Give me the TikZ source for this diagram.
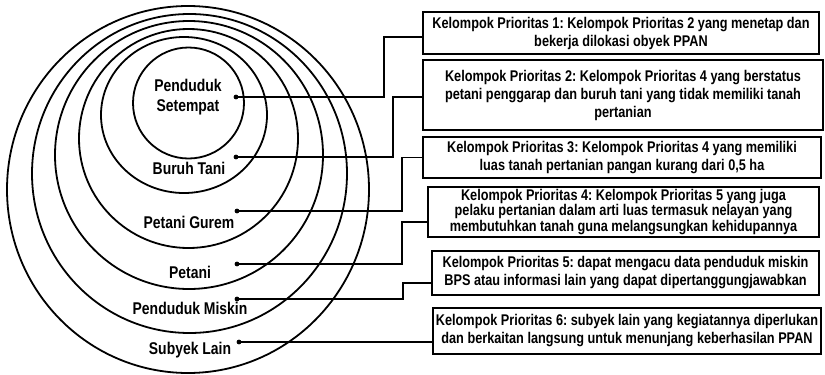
\documentclass[tikz,border=0pt]{standalone}
\usepackage{fontspec}
\setmainfont{Liberation Sans}[FakeStretch=0.82]
\frenchspacing
\begin{document}
\begin{tikzpicture}[x=1pt,y=-1pt,
  ring/.style={line width=1.8pt},
  box/.style={draw, line width=1.5pt, inner sep=0pt, align=center,
    font=\fontsize{15.5}{18}\selectfont\bfseries},
  lbl/.style={align=center, inner sep=0pt,
    font=\fontsize{17}{20.5}\selectfont\bfseries},
  dot/.style={circle, fill, inner sep=0pt, minimum size=4.8pt},
  link/.style={line width=1.1pt}]
\useasboundingbox (0,0) rectangle (825,375);

% nested population rings
\draw[ring] (188.5,103)   ellipse [x radius=55.5pt, y radius=55.5pt];
\draw[ring] (184,115)     ellipse [x radius=83pt,   y radius=78pt];
\draw[ring] (188.5,138.5) ellipse [x radius=109.5pt,y radius=109.5pt];
\draw[ring] (189,155)     ellipse [x radius=134pt,  y radius=134pt];
\draw[ring] (189.5,173.5) ellipse [x radius=157.5pt,y radius=159.5pt];
\draw[ring] (188,189.5)   ellipse [x radius=181pt,  y radius=183.5pt];

% ring labels
\node[lbl] (l1) at (188,97)  {Penduduk\\Setempat};
\node[lbl] (l2) at (189,168) {Buruh Tani};
\node[lbl] (l3) at (189,222) {Petani Gurem};
\node[lbl] (l4) at (190,272) {Petani};
\node[lbl] (l5) at (190,308) {Penduduk Miskin};
\node[lbl] (l6) at (190,350) {Subyek Lain};

% anchor dots
\node[dot] (d1) at (236,97)  {};
\node[dot] (d2) at (236,157) {};
\node[dot] (d3) at (237,211) {};
\node[dot] (d4) at (237,264) {};
\node[dot] (d5) at (237,299) {};
\node[dot] (d6) at (239,342) {};

% priority group descriptions
\node[box, minimum width=396pt, minimum height=42pt] (b1) at (621,33)
  {Kelompok Prioritas 1: Kelompok Prioritas 2 yang menetap dan\\bekerja dilokasi obyek PPAN};
\node[box, minimum width=400pt, minimum height=70pt] (b2) at (623,95)
  {Kelompok Prioritas 2: Kelompok Prioritas 4 yang berstatus\\petani penggarap dan buruh tani yang tidak memiliki tanah\\pertanian};
\node[box, minimum width=398pt, minimum height=41pt] (b3) at (622,157.5)
  {Kelompok Prioritas 3: Kelompok Prioritas 4 yang memiliki\\luas tanah pertanian pangan kurang dari 0,5 ha};
\node[box, minimum width=391pt, minimum height=50pt,
  font=\fontsize{15.5}{15.5}\selectfont\bfseries] (b4) at (623.5,212)
  {Kelompok Prioritas 4: Kelompok Prioritas 5 yang juga\\pelaku pertanian dalam arti luas termasuk nelayan yang\\membutuhkan tanah guna melangsungkan kehidupannya};
\node[box, minimum width=387pt, minimum height=44pt] (b5) at (625.5,273)
  {Kelompok Prioritas 5: dapat mengacu data penduduk miskin\\BPS atau informasi lain yang dapat dipertanggungjawabkan};
\node[box, minimum width=388pt, minimum height=46pt] (b6) at (627,331)
  {Kelompok Prioritas 6: subyek lain yang kegiatannya diperlukan\\dan berkaitan langsung untuk menunjang keberhasilan PPAN};

% connectors
\draw[link] (d1.center) -- (384,97)  |- ([yshift=-4pt]b1.west);
\draw[link] (d2.center) -- (393,157) |- ([yshift=-2pt]b2.west);
\draw[link] (d3.center) -- (402,211) |- (b3.west);
\draw[link] (d4.center) -- (402,264) |- ([yshift=-10pt]b4.west);
\draw[link] (d5.center) -- (403,299) |- ([yshift=-10pt]b5.west);
\draw[link] (d6.center) -- (b6.west |- d6);
\end{tikzpicture}
\end{document}
